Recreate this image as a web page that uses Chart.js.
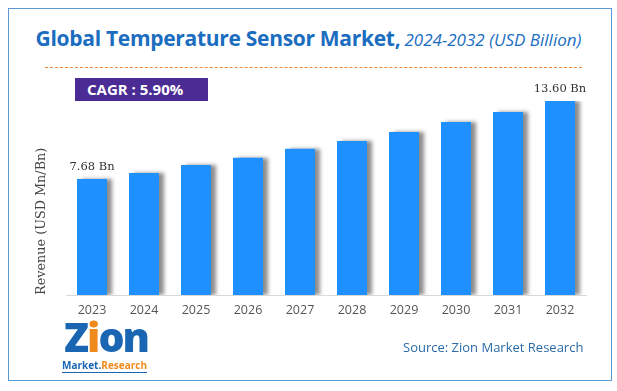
<!DOCTYPE html>
<html><head><meta charset="utf-8">
<script src="https://cdn.jsdelivr.net/npm/chart.js@4"></script>
<style>
html,body{margin:0;padding:0;background:#fff;}
#wrap{position:relative;width:617px;height:391px;overflow:hidden;}
#frame{position:absolute;left:8px;top:8px;width:604px;height:373px;border:1px solid #5b9bd5;box-sizing:border-box;}
#title{position:absolute;left:0;width:617px;top:24px;text-align:center;color:#1a6dbf;white-space:nowrap;font-family:"Open Sans",sans-serif;}
#title b{font-size:21px;font-weight:700;letter-spacing:-0.3px;}
#title i{font-size:17px;font-weight:400;}
#dash{position:absolute;left:45px;top:67px;width:537px;height:0;border-top:1px dashed #f0863a;}
#cagr{position:absolute;left:75px;top:78px;width:133px;height:23px;background:#4b2b94;color:#fff;font-family:"Open Sans",sans-serif;font-weight:700;font-size:15px;line-height:23px;box-sizing:border-box;padding-left:12px;}
#src{position:absolute;left:403px;top:338px;color:#2b6aa6;font-family:"Open Sans",sans-serif;font-size:13px;}
#logo{position:absolute;left:62px;top:320px;width:92px;height:54px;font-family:"Open Sans",sans-serif;}
#logo .z{position:absolute;left:2px;top:-12px;font-size:41px;font-weight:800;color:#1b66b3;letter-spacing:-2px;}
#logo .z span{color:#f08a1c;}
#logo .m{position:absolute;left:0;top:38px;font-size:10px;font-weight:700;color:#1b66b3;border-bottom:1px solid #1b66b3;}
#logo .m span{color:#f08a1c;}
canvas{position:absolute;left:0;top:0;}
</style></head><body>
<div id="wrap">
<div id="frame"></div>
<div id="title"><b>Global Temperature Sensor Market,</b> <i>2024-2032 (USD Billion)</i></div>
<div id="dash"></div>
<div id="cagr">CAGR : 5.90%</div>
<canvas id="c" width="617" height="391"></canvas>
<div id="logo"><div class="z">Z<span>i</span>on</div><div class="m">Market.<span>Research</span></div></div>
<div id="src">Source: Zion Market Research</div>
</div>
<script>
const years = ["2023","2024","2025","2026","2027","2028","2029","2030","2031","2032"];
const revenue = [7.68, 8.13, 8.74, 9.29, 9.97, 10.57, 11.25, 12.01, 12.77, 13.60];
const valueLabels = {0: "7.68 Bn", 9: "13.60 Bn"};
const yAxisTitle = "Revenue (USD Mn/Bn)";
const axisMin = -1.12, axisMax = 13.6;

const shadowPlugin = {
  id: 'shadow',
  beforeDatasetsDraw(chart){ const c=chart.ctx; c.save(); c.shadowColor='rgba(0,0,0,0.45)'; c.shadowOffsetX=5; c.shadowOffsetY=0; c.shadowBlur=4; },
  afterDatasetsDraw(chart){ chart.ctx.restore(); }
};
const labelPlugin = {
  id: 'vlabels',
  afterDatasetsDraw(chart){
    const c=chart.ctx, meta=chart.getDatasetMeta(0);
    c.save(); c.font='11.5px "DejaVu Serif", serif'; c.fillStyle='#333'; c.textAlign='center'; c.textBaseline='bottom';
    for (const k in valueLabels){ const el=meta.data[k]; c.fillText(valueLabels[k], el.x, el.y-6); }
    c.restore();
  }
};
new Chart(document.getElementById('c'), {
  type: 'bar',
  data: { labels: years, datasets: [{ data: revenue, base: axisMin, backgroundColor: '#1e90ff', borderWidth: 0, barPercentage: 0.577, categoryPercentage: 1.0 }] },
  options: {
    responsive: false, animation: false,
    layout: { padding: { left: 34, right: 31, top: 101, bottom: 65 } },
    plugins: { legend: { display: false }, tooltip: { enabled: false } },
    scales: {
      x: { grid: { display: false, drawTicks: false }, border: { color: '#d9d9d9', width: 1 },
           ticks: { color: '#555', font: { family: '"Open Sans", sans-serif', size: 12.5 }, padding: 8 } },
      y: { min: axisMin, max: axisMax, grid: { display: false, drawTicks: false }, border: { display: false },
           ticks: { display: false },
           title: { display: true, text: yAxisTitle, align: 'start', color: '#444', font: { family: '"DejaVu Serif", serif', size: 12.8 }, padding: 0 },
           afterFit(s){ s.width = 32; } }
    }
  },
  plugins: [shadowPlugin, labelPlugin]
});
</script>
</body></html>
